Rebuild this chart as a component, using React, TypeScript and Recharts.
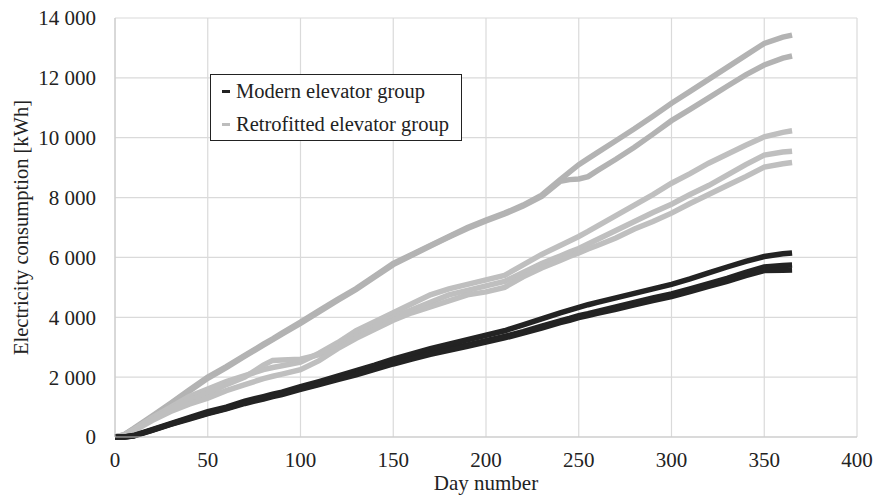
import { LineChart, Line, XAxis, YAxis, CartesianGrid } from "recharts"

const days = [0, 5, 10, 20, 30, 40, 50, 60, 70, 80, 85, 90, 100, 110, 120, 130, 140, 150, 160, 170, 180, 190, 200, 210, 220, 230, 240, 245, 250, 255, 260, 270, 280, 290, 300, 310, 320, 330, 340, 350, 360, 365]

// retrofitted elevator group (grey)
const retroA = [0, 80, 280, 700, 1130, 1570, 2000, 2350, 2730, 3100, 3280, 3470, 3840, 4220, 4600, 4960, 5380, 5800, 6100, 6400, 6700, 7000, 7250, 7480, 7750, 8080, 8600, 8850, 9100, 9300, 9500, 9900, 10300, 10720, 11150, 11550, 11950, 12350, 12750, 13150, 13360, 13430]
const retroB = [0, 70, 260, 670, 1100, 1530, 1960, 2320, 2700, 3070, 3250, 3440, 3800, 4180, 4560, 4930, 5350, 5760, 6070, 6380, 6680, 6970, 7220, 7450, 7720, 8040, 8540, 8600, 8620, 8700, 8900, 9280, 9680, 10120, 10570, 10950, 11330, 11720, 12100, 12430, 12660, 12730]
const retroC = [0, 70, 250, 650, 1000, 1350, 1600, 1850, 2050, 2250, 2320, 2380, 2500, 2800, 3150, 3550, 3850, 4150, 4450, 4750, 4950, 5100, 5250, 5400, 5750, 6100, 6400, 6550, 6700, 6870, 7050, 7400, 7750, 8100, 8480, 8800, 9150, 9450, 9750, 10030, 10180, 10230]
const retroD = [0, 60, 230, 600, 950, 1250, 1450, 1750, 2000, 2400, 2560, 2570, 2600, 2750, 3050, 3400, 3700, 4000, 4250, 4500, 4750, 4900, 5050, 5200, 5500, 5800, 6050, 6180, 6300, 6450, 6600, 6900, 7200, 7500, 7780, 8100, 8400, 8750, 9100, 9420, 9520, 9550]
const retroE = [0, 50, 200, 550, 850, 1100, 1300, 1550, 1750, 1950, 2030, 2100, 2250, 2550, 2950, 3300, 3600, 3900, 4150, 4350, 4550, 4750, 4850, 5000, 5350, 5650, 5900, 6030, 6150, 6280, 6400, 6650, 6950, 7200, 7480, 7800, 8100, 8400, 8700, 9020, 9130, 9170]

// modern elevator group (black)
const modernF = [0, 0, 50, 250, 450, 650, 850, 1000, 1200, 1350, 1430, 1500, 1680, 1850, 2030, 2220, 2400, 2600, 2780, 2950, 3100, 3250, 3400, 3550, 3750, 3950, 4150, 4240, 4330, 4420, 4500, 4650, 4800, 4950, 5100, 5280, 5480, 5680, 5870, 6030, 6120, 6150]
const modernG = [0, 0, 40, 230, 430, 620, 800, 960, 1150, 1300, 1380, 1450, 1620, 1780, 1950, 2120, 2300, 2480, 2640, 2800, 2950, 3080, 3220, 3360, 3520, 3700, 3880, 3960, 4050, 4120, 4200, 4350, 4500, 4650, 4780, 4950, 5120, 5300, 5500, 5680, 5730, 5750]
const modernH = [0, 0, 30, 220, 420, 600, 780, 940, 1120, 1270, 1350, 1420, 1590, 1750, 1920, 2080, 2260, 2440, 2600, 2760, 2900, 3030, 3170, 3310, 3470, 3640, 3820, 3900, 3990, 4060, 4130, 4270, 4420, 4560, 4690, 4860, 5030, 5200, 5390, 5560, 5570, 5580]

const xTicks = [0, 50, 100, 150, 200, 250, 300, 350, 400]
const yTicks = [0, 2000, 4000, 6000, 8000, 10000, 12000, 14000]

const legendItems = [
  { label: "Modern elevator group", color: "#222222" },
  { label: "Retrofitted elevator group", color: "#bdbdbd" },
]

const data = days.map((d, i) => ({
  day: d,
  a: retroA[i],
  b: retroB[i],
  c: retroC[i],
  d: retroD[i],
  e: retroE[i],
  f: modernF[i],
  g: modernG[i],
  h: modernH[i],
}))

const fmt = (v: number) => String(v).replace(/\B(?=(\d{3})+(?!\d))/g, " ")

const font = "'Liberation Serif', 'Times New Roman', serif"

function LegendBox() {
  return (
    <div
      style={{
        position: "absolute",
        left: 210,
        top: 74,
        width: 252,
        height: 67,
        boxSizing: "border-box",
        border: "1.5px solid #222",
        background: "#fff",
        padding: "0 0 0 11px",
        fontFamily: font,
        fontSize: 20.5,
        color: "#222",
        lineHeight: "33px",
      }}
    >
      {legendItems.map((it) => (
        <div key={it.label} style={{ display: "flex", alignItems: "center", whiteSpace: "nowrap" }}>
          <span style={{ display: "inline-block", width: 8, height: 3, background: it.color, marginRight: 6 }} />
          <span>{it.label}</span>
        </div>
      ))}
    </div>
  )
}

export default function App() {
  const greyTop = "#b3b3b3"
  const greyMid = "#bfbfbf"
  const dark = "#232323"
  return (
    <div style={{ position: "absolute", left: 0, top: 0, width: 874, height: 496, background: "#fff" }}>
      <LineChart width={874} height={496} data={data} margin={{ top: 18, right: 17, bottom: 0, left: 0 }}>
        <CartesianGrid stroke="#dadada" strokeWidth={1.2} />
        <XAxis
          dataKey="day"
          type="number"
          domain={[0, 400]}
          ticks={xTicks}
          height={59}
          stroke="#c8c8c8"
          tickLine={false}
          tick={{ fill: "#222", fontSize: 21, fontFamily: font }}
          tickMargin={9}
          label={{ value: "Day number", position: "insideBottom", offset: 6, fill: "#222", fontSize: 21, fontFamily: font }}
        />
        <YAxis
          type="number"
          domain={[0, 14000]}
          ticks={yTicks}
          width={115}
          stroke="#c8c8c8"
          tickLine={false}
          tickFormatter={fmt}
          tick={{ fill: "#222", fontSize: 21, fontFamily: font }}
          tickMargin={13}
          label={{
            value: "Electricity consumption [kWh]",
            angle: -90,
            position: "insideLeft",
            offset: 21,
            style: { textAnchor: "middle" },
            fill: "#222",
            fontSize: 20.5,
            fontFamily: font,
          }}
        />
        <Line dataKey="a" stroke={greyTop} strokeWidth={5.5} dot={false} isAnimationActive={false} />
        <Line dataKey="b" stroke={greyTop} strokeWidth={5.5} dot={false} isAnimationActive={false} />
        <Line dataKey="c" stroke={greyMid} strokeWidth={5.5} dot={false} isAnimationActive={false} />
        <Line dataKey="d" stroke={greyMid} strokeWidth={5.5} dot={false} isAnimationActive={false} />
        <Line dataKey="e" stroke={greyMid} strokeWidth={5.5} dot={false} isAnimationActive={false} />
        <Line dataKey="f" stroke={dark} strokeWidth={5.5} dot={false} isAnimationActive={false} />
        <Line dataKey="g" stroke={dark} strokeWidth={5.5} dot={false} isAnimationActive={false} />
        <Line dataKey="h" stroke={dark} strokeWidth={5.5} dot={false} isAnimationActive={false} />
      </LineChart>
      <LegendBox />
    </div>
  )
}
